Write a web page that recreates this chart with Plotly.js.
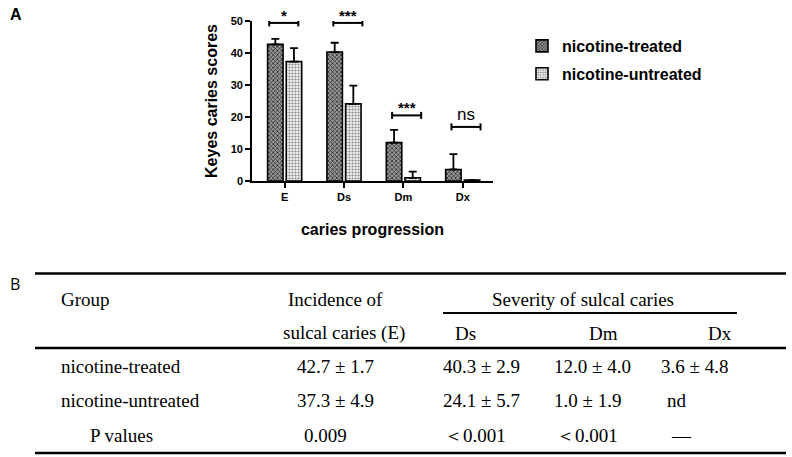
<!DOCTYPE html>
<html>
<head>
<meta charset="utf-8">
<script src="https://cdn.plot.ly/plotly-3.0.1.min.js"></script>
<style>html,body{margin:0;padding:0;background:#fff;}#chart{width:792px;height:457px;}</style>
</head>
<body>
<div id="chart"></div>
<script>
// ---- data ----
const categories = ["E", "Ds", "Dm", "Dx"];
const treatedMean = [42.7, 40.3, 12.0, 3.6];
const treatedErr = [1.7, 2.9, 4.0, 4.8];
const untreatedMean = [37.3, 24.1, 1.0, 0.3];
const untreatedErr = [4.2, 5.7, 1.9, 0];
const sigLabels = ["*", "***", "***", "ns"];
const sigLevel = [49.4, 49.4, 20.5, 16.9];
const yTicks = [0, 10, 20, 30, 40, 50];

const tableHeader1 = ["Group", "Incidence of", "Severity of sulcal caries"];
const tableHeader2 = ["sulcal caries (E)", "Ds", "Dm", "Dx"];
const rowNames = ["nicotine-treated", "nicotine-untreated", "P values"];
const colE = ["42.7 ± 1.7", "37.3 ± 4.9", "0.009"];
const colDs = ["40.3 ± 2.9", "24.1 ± 5.7", "＜0.001"];
const colDm = ["12.0 ± 4.0", "1.0 ± 1.9", "＜0.001"];
const colDx = ["3.6 ± 4.8", "nd", "—"];

// ---- layout geometry ----
const L = 252, R = 493, T = 21, B = 181;
const W = R - L, H = B - T;
const px = v => (v - L) / W;
const py = v => (B - v) / H;

const boldFont = {family: "Liberation Sans, Arial, sans-serif", size: 16, color: "#000", weight: "bold"};
const serif = {family: "Liberation Serif, Times New Roman, serif", size: 19, color: "#000"};

const traces = [
  {
    type: "bar", name: "nicotine-treated", legendgroup: "a",
    x: categories, y: treatedMean,
    error_y: {type: "data", symmetric: false, array: treatedErr, arrayminus: treatedErr.map(() => 0), color: "#000", thickness: 1.8, width: 4},
    marker: {color: "#444", line: {color: "#000", width: 1.6},
      pattern: {shape: "x", fgcolor: "#2a2a2a", bgcolor: "#999", size: 3, solidity: 0.45, fillmode: "replace"}}
  },
  {
    type: "bar", name: "nicotine-untreated", legendgroup: "b",
    x: categories, y: untreatedMean,
    error_y: {type: "data", symmetric: false, array: untreatedErr, arrayminus: untreatedErr.map(() => 0), color: "#000", thickness: 1.8, width: 4},
    marker: {color: "#999", line: {color: "#000", width: 1.6},
      pattern: {shape: ".", fgcolor: "#8a8a8a", bgcolor: "#f0f0f0", size: 3, solidity: 0.4, fillmode: "replace"}}
  }
];

const shapes = [];
const annotations = [];
const bx0 = [-0.26, 0.82, 1.81, 2.81];
const bw = 0.49;
const tick = 1.1;
sigLabels.forEach((lab, i) => {
  const x0 = bx0[i], x1 = bx0[i] + bw, y = sigLevel[i];
  const ln = {type: "line", xref: "x", yref: "y", line: {color: "#000", width: 2}};
  shapes.push(Object.assign({}, ln, {x0: x0, x1: x1, y0: y, y1: y}));
  shapes.push(Object.assign({}, ln, {x0: x0, x1: x0, y0: y - tick, y1: y + tick}));
  shapes.push(Object.assign({}, ln, {x0: x1, x1: x1, y0: y - tick, y1: y + tick}));
  annotations.push({
    xref: "x", yref: "y", x: (x0 + x1) / 2, y: y, yanchor: "bottom", yshift: lab === "ns" ? 1 : -3,
    text: lab, showarrow: false,
    font: lab === "ns" ? {family: "Liberation Sans, Arial", size: 17, color: "#000"} : {family: "Liberation Sans, Arial", size: 15, color: "#000", weight: "bold"}
  });
});

// panel labels
annotations.push({xref: "paper", yref: "paper", x: px(8), y: py(15), xanchor: "left", yanchor: "middle", text: "A", showarrow: false,
  font: {family: "Liberation Sans, Arial", size: 16, color: "#000", weight: "bold"}});
annotations.push({xref: "paper", yref: "paper", x: px(8), y: py(284), xanchor: "left", yanchor: "middle", text: "B", showarrow: false,
  font: {family: "Open Sans, sans-serif", size: 16, color: "#000"}});

// table lines
const hline = (x0, x1, y, w) => shapes.push({type: "line", xref: "paper", yref: "paper", x0: px(x0), x1: px(x1), y0: py(y), y1: py(y), line: {color: "#000", width: w}});
hline(35, 786, 273.5, 2.6);
hline(443, 737, 313, 2.2);
hline(35, 786, 348, 2.6);
hline(35, 786, 453, 2.6);

const txt = (t, x, y, anchor) => annotations.push({xref: "paper", yref: "paper", x: px(x), y: py(y), xanchor: anchor || "center", yanchor: "middle", text: t, showarrow: false, font: serif});
txt(tableHeader1[0], 59, 299, "left");
txt(tableHeader1[1], 335, 299);
txt(tableHeader1[2], 583, 299);
txt(tableHeader2[0], 344, 333);
txt(tableHeader2[1], 465, 333);
txt(tableHeader2[2], 603, 333);
txt(tableHeader2[3], 720, 333);
const rowY = [366, 400, 435];
const rowX = [59, 59, 88];
const colCenters = [[335, 335, 325], [481, 481, 475], [592, 587, 587], [694, 677, 681]];
const cols = [colE, colDs, colDm, colDx];
rowNames.forEach((n, r) => {
  txt(n, rowX[r], rowY[r], "left");
  cols.forEach((c, k) => txt(c[r], colCenters[k][r], rowY[r]));
});

const layout = {
  width: 792, height: 457,
  margin: {l: L, r: 792 - R, t: T, b: 457 - B, pad: 0},
  paper_bgcolor: "#fff", plot_bgcolor: "#fff",
  barmode: "group", bargap: 0.372, bargroupgap: 0.17,
  showlegend: true,
  legend: {x: px(522), y: py(29), xanchor: "left", yanchor: "top", font: boldFont, tracegroupgap: 4, traceorder: "grouped", bgcolor: "rgba(0,0,0,0)"},
  xaxis: {
    type: "category", range: [-0.55, 3.51], showline: true, linecolor: "#000", linewidth: 1.8,
    ticks: "outside", ticklen: 5, tickwidth: 1.8, tickcolor: "#000", showgrid: false, zeroline: false,
    tickfont: {family: "Liberation Sans, Arial", size: 11, color: "#000", weight: "bold"},
    title: {text: "caries progression", font: boldFont, standoff: 22}
  },
  yaxis: {
    range: [0, 50], tickvals: yTicks, showline: true, linecolor: "#000", linewidth: 1.8,
    ticks: "outside", ticklen: 5, tickwidth: 1.8, tickcolor: "#000", showgrid: false, zeroline: false,
    tickfont: {family: "Liberation Sans, Arial", size: 11, color: "#000", weight: "bold"},
    title: {text: "Keyes caries scores", font: boldFont, standoff: 9}
  },
  shapes: shapes,
  annotations: annotations
};

Plotly.newPlot("chart", traces, layout, {displayModeBar: false, staticPlot: true});
</script>
</body>
</html>
